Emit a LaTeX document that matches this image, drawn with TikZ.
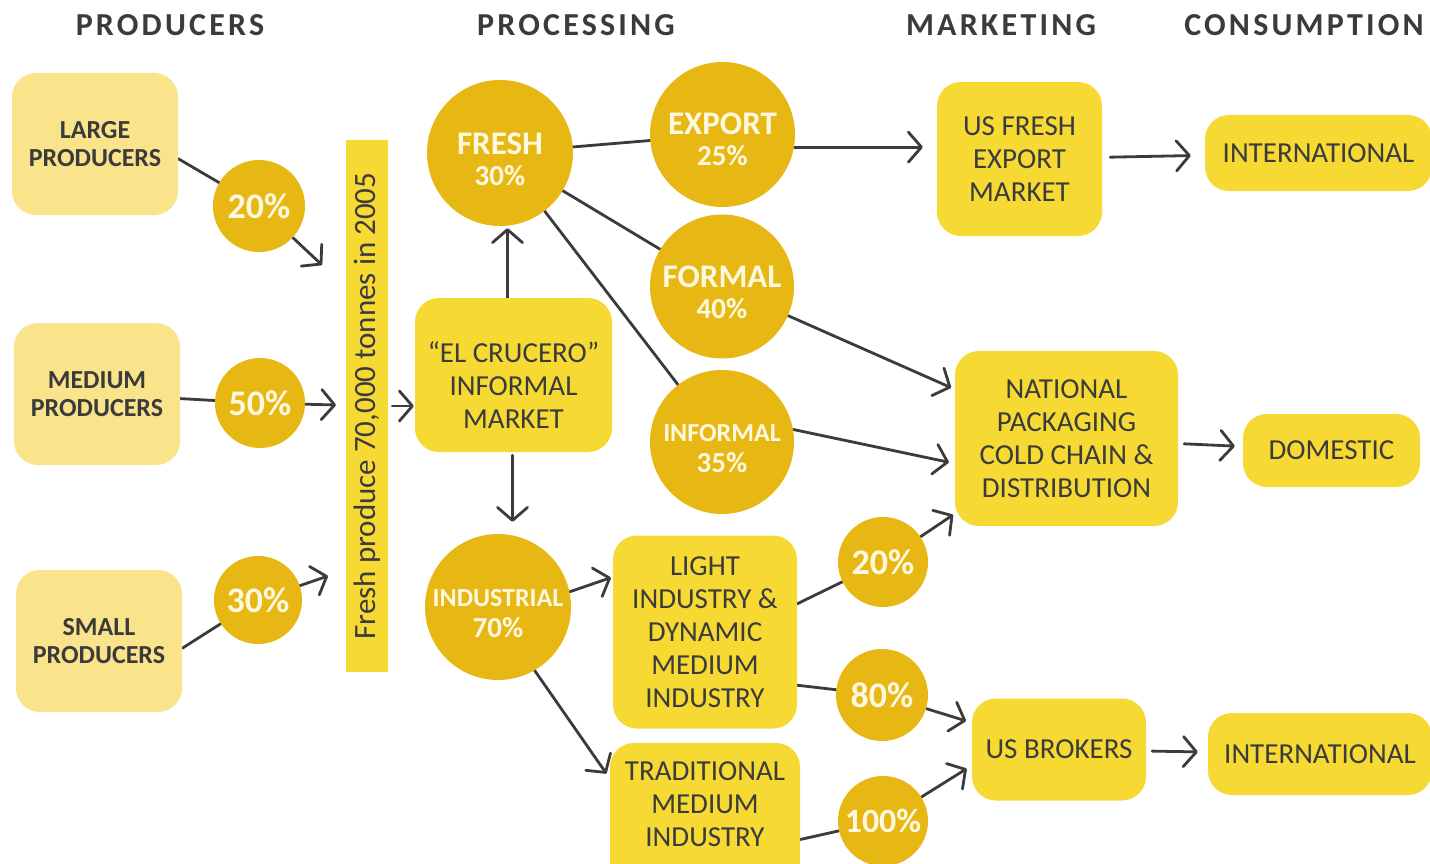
\documentclass[tikz,border=0pt]{standalone}
\usepackage{fontspec}
\setmainfont{Carlito}
\newfontfamily\headfont{Carlito}[LetterSpace=10]
\usetikzlibrary{arrows.meta}
\pgfdeclarelayer{background}
\pgfsetlayers{background,main}

\definecolor{paleyel}{HTML}{F9E38B}
\definecolor{boxyel}{HTML}{F6D933}
\definecolor{gold}{HTML}{E7B814}
\definecolor{ink}{HTML}{3B3B3B}
\definecolor{cream}{HTML}{FFF8E1}

\newcommand{\pctsize}{\fontsize{29}{31}\selectfont}
\newcommand{\tagsize}{\fontsize{26}{31}\selectfont}

\tikzset{
  head/.style={text=ink, font=\headfont\bfseries\fontsize{32}{34}\selectfont},
  prodbox/.style={fill=paleyel, rounded corners=24pt, minimum width=166pt,
    minimum height=142pt, align=center, text=ink,
    font=\fontsize{26}{28}\selectfont\bfseries},
  ybox/.style={fill=boxyel, rounded corners=24pt, align=center, text=ink,
    inner sep=4pt, font=\fontsize{29}{33}\selectfont},
  boxtext/.style={align=center, text=ink, inner sep=0pt,
    font=\fontsize{29}{33}\selectfont},
  bigdisc/.style={circle, fill=gold, minimum size=145pt, inner sep=0pt},
  disctext/.style={align=center, text=cream, inner sep=0pt,
    font=\fontsize{33}{31}\selectfont\bfseries},
  pctdisc/.style={circle, fill=gold, minimum size=90pt, inner sep=0pt,
    text=cream, font=\fontsize{36}{40}\selectfont\bfseries},
  link/.style={draw=ink, line width=2.8pt, line cap=round, line join=round},
  arr/.style={link, -{Straight Barb[length=13pt,width=30pt,round]}},
}

\begin{document}
\begin{tikzpicture}[x=1pt,y=-1pt]
\useasboundingbox (0,0) rectangle (1430,864);

% column headings
\node[head] (hprod) at (170,25) {PRODUCERS};
\node[head] (hproc) at (576,25) {PROCESSING};
\node[head] (hmark) at (1001,25) {MARKETING};
\node[head] (hcons) at (1304,25) {CONSUMPTION};

% producers
\node (lp) [prodbox] at (95,144) {LARGE\\PRODUCERS};
\node (mp) [prodbox] at (97,394) {MEDIUM\\PRODUCERS};
\node (sp) [prodbox] at (99,641) {SMALL\\PRODUCERS};
\node (p20) [pctdisc, minimum size=92pt] at (259,206) {20\%};
\node (p50) [pctdisc] at (260,403) {50\%};
\node (p30) [pctdisc, minimum size=88pt] at (258,600) {30\%};

% total volume bar
\node (bar) [fill=boxyel, rotate=90, minimum width=532pt, minimum height=42pt,
  inner sep=0pt, text=ink, font=\fontsize{31}{33}\selectfont] at (367,406)
  {Fresh produce 70,000 tonnes in 2005};

% processing
\node (ec) [ybox, minimum width=197pt, minimum height=154pt,
  label={[boxtext, yshift=-10pt]center:“EL CRUCERO”\\INFORMAL\\MARKET}] at (513.5,375) {};
\node (fresh) [bigdisc, minimum size=146pt,
  label={[disctext, yshift=-6pt]center:FRESH\\{\pctsize 30\%}}] at (500,153) {};
\node (ind) [bigdisc, minimum size=146pt,
  label={[disctext, yshift=-7pt]center:{\tagsize INDUSTRIAL}\\{\pctsize 70\%}}] at (498,607) {};
\node (exp) [bigdisc,
  label={[disctext, yshift=-5pt]center:EXPORT\\{\pctsize 25\%}}] at (722.5,134.5) {};
\node (formal) [bigdisc, minimum size=144pt,
  label={[disctext, yshift=-6pt]center:FORMAL\\{\pctsize 40\%}}] at (722,286.5) {};
\node (informal) [bigdisc, minimum size=144pt,
  label={[disctext, yshift=-7pt]center:{\tagsize INFORMAL}\\{\pctsize 35\%}}] at (722,442) {};
\node (light) [ybox, minimum width=184pt, minimum height=193pt] at (705,632)
  {LIGHT\\INDUSTRY \&\\DYNAMIC\\MEDIUM\\INDUSTRY};
\node (trad) [ybox, minimum width=190pt, minimum height=123pt] at (705,804.5)
  {TRADITIONAL\\MEDIUM\\INDUSTRY};
\node (q20) [pctdisc] at (883,562) {20\%};
\node (q80) [pctdisc, minimum size=92pt] at (882,695) {80\%};
\node (q100) [pctdisc, font=\fontsize{34}{40}\selectfont\bfseries] at (883,821) {100\%};

% marketing
\node (usf) [ybox, minimum width=165pt, minimum height=154pt] at (1019.5,159)
  {US FRESH\\EXPORT\\MARKET};
\node (nat) [ybox, minimum width=223pt, minimum height=175pt] at (1066.5,438.5)
  {NATIONAL\\PACKAGING\\COLD CHAIN \&\\DISTRIBUTION};
\node (brk) [ybox, minimum width=174pt, minimum height=102pt] at (1059,749.5)
  {US BROKERS};

% consumption
\node (intA) [ybox, minimum width=227pt, minimum height=76pt] at (1318.5,153) {INTERNATIONAL};
\node (dom) [ybox, minimum width=177pt, minimum height=73pt] at (1331.5,450.5) {DOMESTIC};
\node (intB) [ybox, minimum width=224pt, minimum height=82pt] at (1320,754) {INTERNATIONAL};

% arrow ends at the bar
\coordinate (in1) at (322,265);
\coordinate (in2) at (336,405);
\coordinate (in3) at (328,576);

\begin{pgfonlayer}{background}
  \fill[white] (0,0) rectangle (1430,864);
  % square off the lower edge of the traditional industry box
  \fill[boxyel] ([yshift=30pt]trad.south west) rectangle ([yshift=-20pt]trad.south east);

  \draw[link] (lp.-10) -- (p20);
  \draw[arr]  (p20) -- (in1);
  \draw[link] (mp) -- (p50);
  \draw[arr]  (p50) -- (in2);
  \draw[link] (sp.-5) -- (p30);
  \draw[arr]  (p30) -- (in3);

  \draw[arr, shorten <=4pt, shorten >=1pt] (bar.south) -- (bar.south -| ec.west);
  \draw[arr, shorten >=2pt] ([xshift=-6pt]ec.north) -- ([xshift=-6pt]ec.north |- fresh.south);
  \draw[arr, shorten <=3pt, shorten >=12pt] ([xshift=-1pt]ec.south) -- ([xshift=-1pt]ec.south |- ind.north);

  \draw[link] (fresh) -- (exp);
  \draw[link] (fresh) -- (formal);
  \draw[link] (fresh) -- (informal);

  \draw[arr, shorten >=14pt] (exp.-10) -- (exp.-10 -| usf.west);
  \draw[arr, shorten <=8pt, shorten >=14pt] (usf) -- (intA);
  \draw[arr, shorten >=4pt] (formal) -- (nat);
  \draw[arr, shorten >=6pt] (informal.10) -- ([yshift=-25pt]nat.west);
  \draw[arr, shorten <=6pt, shorten >=8pt] (nat) -- (dom);

  \draw[arr, shorten >=2pt] (ind.12) -- ([yshift=55pt]light.west);
  \draw[arr, shorten >=6pt] (ind.-60) -- ([yshift=26pt]trad.west);

  \draw[link] (light.17) -- (q20);
  \draw[arr, shorten >=2pt] (q20) -- (nat);
  \draw[link] (light.-30) -- (q80);
  \draw[arr, shorten >=6pt] (q80) -- (brk);
  \draw[link] ([yshift=-35pt]trad.east) -- (q100);
  \draw[arr, shorten >=6pt] (q100) -- ([yshift=-16pt]brk.west);
  \draw[arr, shorten <=6pt, shorten >=10pt] (brk) -- (intB);
\end{pgfonlayer}
\end{tikzpicture}
\end{document}
